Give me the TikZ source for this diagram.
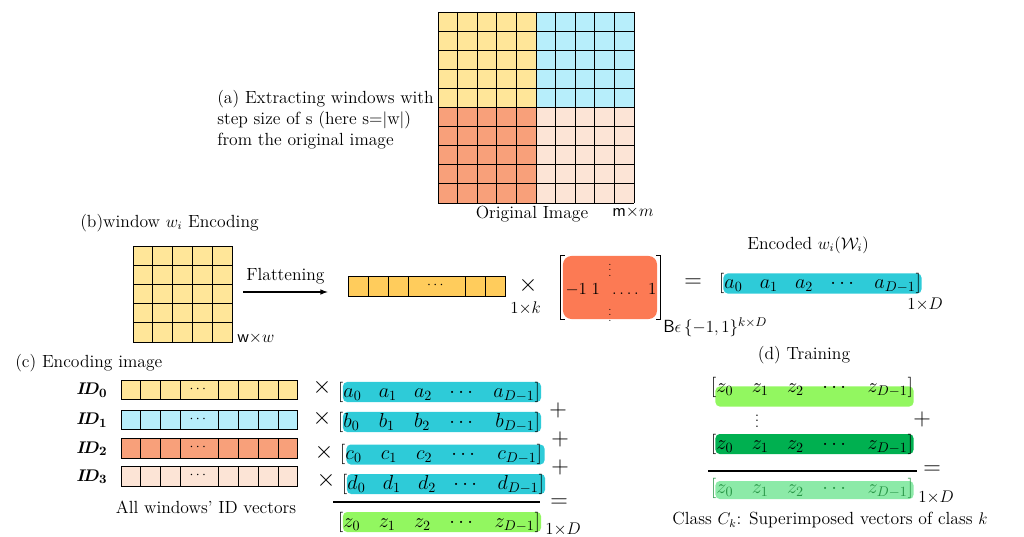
\documentclass[tikz,border=0pt]{standalone}
\usepackage{amsmath,amssymb}
\usetikzlibrary{arrows,positioning,calc}

\definecolor{winyellow}{RGB}{255,230,153}
\definecolor{wincyan}{RGB}{183,238,251}
\definecolor{winorange}{RGB}{248,160,122}
\definecolor{winpeach}{RGB}{252,228,214}
\definecolor{flatyellow}{RGB}{255,204,92}
\definecolor{matorange}{RGB}{252,122,84}
\definecolor{veccyan}{RGB}{46,203,216}
\definecolor{veclime}{RGB}{146,247,96}
\definecolor{vecgreen}{RGB}{0,176,80}
\definecolor{vecmint}{RGB}{140,234,168}
\definecolor{minttext}{RGB}{40,150,70}

\newcommand{\vecrow}[1]{$[#1_0$\hfill$#1_1$\hfill$#1_2$\hfill$\cdots$\hfill$#1_{D-1}]$}

\tikzset{
  txt/.style={inner sep=0,font=\fontsize{12.5}{15}\selectfont},
  dimlbl/.style={inner sep=0,font=\fontsize{12.5}{14}\selectfont},
  op/.style={inner sep=0,font=\fontsize{18}{18}\selectfont},
  cell/.style={draw,line width=0.7pt},
  vecbar/.style={rectangle,rounded corners=3pt,inner sep=0,minimum width=4.95cm,minimum height=0.5cm},
  vectxt/.style={inner sep=0,text width=5.05cm,font=\fontsize{14}{16}\selectfont},
}

\begin{document}
\begin{tikzpicture}[x=0.025cm,y=-0.025cm]
\useasboundingbox (0,0) rectangle (1024,537);

% (a) original image split into windows
\node[inner sep=0,minimum width=4.9cm,minimum height=4.775cm] (orig) at (536,107.5) {};
\fill[winyellow] (438,12) rectangle (536,107.5);
\fill[wincyan] (536,12) rectangle (634,107.5);
\fill[winorange] (438,107.5) rectangle (536,203);
\fill[winpeach] (536,107.5) rectangle (634,203);
\foreach \i in {0,...,10} \draw[cell] (438+19.6*\i,12) -- (438+19.6*\i,203);
\foreach \j in {0,...,10} \draw[cell] (438,12+19.1*\j) -- (634,12+19.1*\j);
\node[txt,align=left,anchor=west] (atext) at (217,120) {(a) Extracting windows with\\step size of s (here s=$|$w$|$)\\from the original image};
\node[txt] (origlbl) at (532,214) {Original Image};
\node[dimlbl,anchor=west] (mm) at (612,212) {\textsf{m}$\times m$};

% (b) one window encoded
\node[txt,anchor=west] (btext) at (80,223) {(b)window {\large$w_i$} Encoding};
\node[inner sep=0,minimum width=2.475cm,minimum height=2.4cm] (win) at (182.5,294) {};
\foreach \i in {0,...,4} \foreach \j in {0,...,4}
  \draw[cell,fill=winyellow] (133+19.8*\i,246+19.2*\j) rectangle ++(19.8,19.2);
\node[dimlbl,anchor=west] (ww) at (237,338) {\textsf{w}$\times w$};
\node[inner sep=0,minimum width=3.925cm,minimum height=0.5cm] (flat) at (426.5,286) {};
\foreach \a/\b in {348/368,368/388,388/408,408/465,465/485,485/505}
  \draw[cell,fill=flatyellow] (\a,276) rectangle (\b,296);
\node[inner sep=0] at (436.5,285) {$\cdots$};
\draw[-latex,line width=0.8pt] (win.east) ++(11,-2) -- ($(flat.west)+(-20,6)$) node[txt,midway,above=5pt] {Flattening};
\node[op] (times0) at (528,285) {$\times$};
\node[dimlbl,anchor=west] (onek) at (510,308) {$1{\times}k$};

% random matrix B
\node[fill=matorange,rounded corners=6pt,minimum width=2.35cm,minimum height=1.575cm] (wmat) at (610,287.5) {};
\draw[line width=0.8pt] ($(wmat.north west)+(2,0)$) -- ++(-4,0) -- ++(0,64) -- ++(4,0);
\draw[line width=0.8pt] ($(wmat.north east)+(-1,0)$) -- ++(4,0) -- ++(0,64) -- ++(-4,0);
\node[inner sep=0,font=\fontsize{13}{15}\selectfont] (matrow) at (611,290) {$-1\;1\;\;\ldots.\;\;1$};
\node[inner sep=0,font=\scriptsize] (vdup) at (610,266) {$\vdots$};
\node[inner sep=0,font=\scriptsize] (vddn) at (610,311) {$\vdots$};
\node[dimlbl,anchor=west] (bset) at (663,327) {\textsf{B}$\epsilon\,\{-1,1\}^{k\times D}$};
\node[op] (eq0) at (693,283) {$=$};

% encoded window
\node[vecbar,fill=veccyan] (enc) at (822.5,283.5) {};
\node[vectxt] (enctxt) at (820,283) {\vecrow{a}};
\node[txt] (enclbl) at (808,245) {Encoded {\large$w_i(\mathcal{W}_i)$}};
\node[dimlbl,anchor=west] (oned0) at (907,304) {$1{\times}D$};

% (c) encoding the whole image
\node[txt,anchor=west] (ctext) at (15,363) {(c) Encoding image};
\foreach \y/\c/\n in {380/winyellow/0,410/wincyan/1,438.5/winorange/2,466.5/winpeach/3} {
  \foreach \a/\b in {121/140,140/160,160/180,180/218,218/238,238/258,258/278,278/297}
    \draw[cell,fill=\c] (\a,\y) rectangle (\b,\y+19.5);
  \node[inner sep=0] at (199,\y+9) {$\cdots$};
  \node[inner sep=0,font=\fontsize{13}{15}\selectfont] (id\n) at (92,\y+10) {$\boldsymbol{I\!D_{\n}}$};
}
\node[txt] (idlbl) at (206,507) {All windows’ ID vectors};
\node[op] (timesA) at (322,387) {$\times$};
\node[op] (timesB) at (322,418) {$\times$};
\node[op] (timesC) at (324,452) {$\times$};
\node[op] (timesD) at (326,480) {$\times$};
\node[vecbar,fill=veccyan] (vecA) at (442,392) {};
\node[vectxt] (vecAtxt) at (439,392) {\vecrow{a}};
\node[vecbar,fill=veccyan] (vecB) at (442,422) {};
\node[vectxt] (vecBtxt) at (439,422) {\vecrow{b}};
\node[vecbar,fill=veccyan] (vecC) at (445.5,454.5) {};
\node[vectxt] (vecCtxt) at (441,454) {\vecrow{c}};
\node[vecbar,fill=veccyan] (vecD) at (446,484) {};
\node[vectxt] (vecDtxt) at (443,484) {\vecrow{d}};
\node[op] (plusA) at (558,410) {$+$};
\node[op] (plusB) at (560,439) {$+$};
\node[op] (plusC) at (560,467) {$+$};
\coordinate (sumL) at (333,502);
\node[op] (eqC) at (559,503) {$=$};
\draw[line width=0.8pt] (sumL) -- ($(eqC.west)+(-10,-1)$);
\node[vecbar,fill=veclime] (vecZ) at (442,522) {};
\node[vectxt] (vecZtxt) at (439,522) {\vecrow{z}};
\node[dimlbl,anchor=west] (oned1) at (545,529) {$1{\times}D$};

% (d) training, superimposing class vectors
\node[txt] (dtext) at (804,355) {(d) Training};
\node[vecbar,fill=veclime] (trZ1) at (814.5,396.5) {};
\node[vectxt] (trZ1txt) at (812,387) {\vecrow{z}};
\node[inner sep=0] (trdots) at (757,417) {$\vdots$};
\node[op] (plusD) at (922,419) {$+$};
\node[vecbar,fill=vecgreen] (trZn) at (814.5,444) {};
\node[vectxt] (trZntxt) at (812,444) {\vecrow{z}};
\coordinate (trL) at (708,471);
\node[op] (eqD) at (932,470) {$=$};
\draw[line width=0.8pt] (trL) -- ($(eqD.west)+(-6,1)$);
\node[vecbar,fill=vecmint,minimum height=0.45cm] (trC) at (814.5,490) {};
\node[vectxt,text=minttext] (trCtxt) at (812,488) {\vecrow{z}};
\node[dimlbl,anchor=west] (oned2) at (918,497) {$1{\times}D$};
\node[txt] (classlbl) at (830,520) {Class {\large$C_k$}: Superimposed vectors of class {\large$k$}};
\end{tikzpicture}
\end{document}
